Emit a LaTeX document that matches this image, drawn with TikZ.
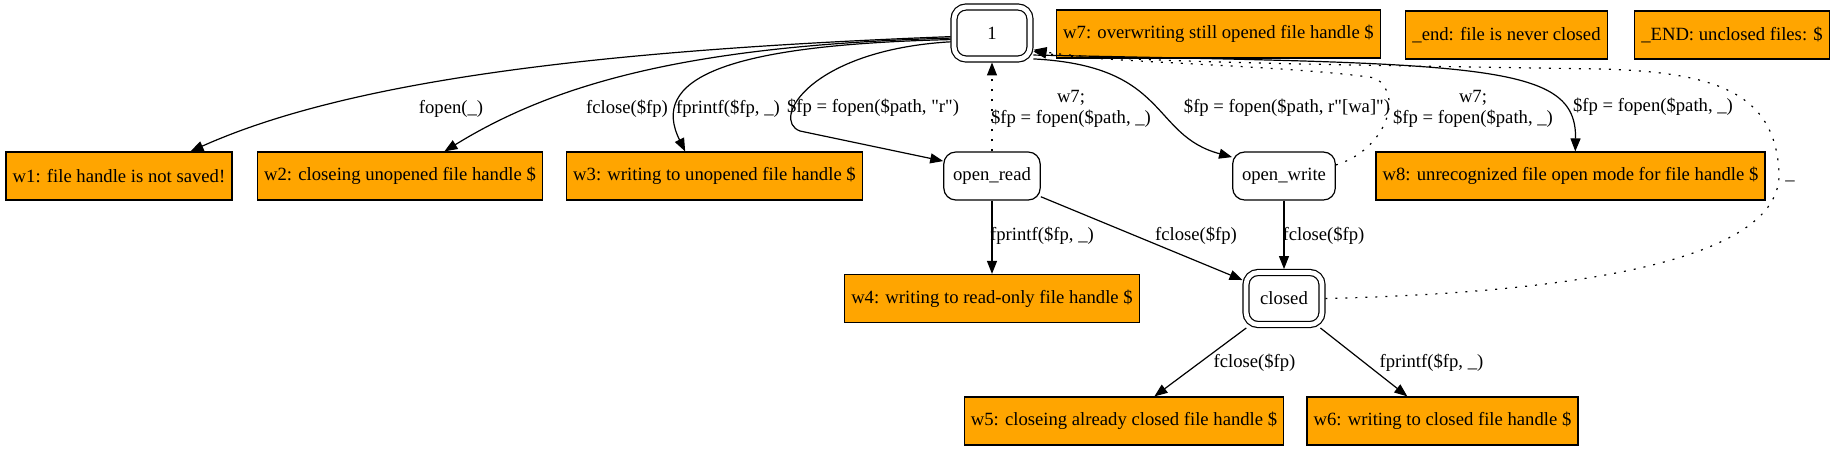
\documentclass[tikz,border=0pt]{standalone}
\usepackage{fontspec}
\setmainfont{Liberation Serif}
\usepackage{tikz}
\usetikzlibrary{arrows.meta}
\definecolor{warnfill}{HTML}{FFA500}

\begin{document}
\begin{tikzpicture}[x=0.75pt,y=0.75pt,yscale=-1,xscale=1,line width=0.9pt,
  every node/.style={font=\fontsize{14}{16}\selectfont},
  warn/.style={draw, fill=warnfill, minimum height=36pt, inner xsep=5pt},
  state/.style={draw, rounded corners=9pt, minimum width=54pt, minimum height=36pt, inner xsep=7pt},
  final/.style={state, double, double distance=3.6pt, outer sep=2.6pt, minimum width=57pt, minimum height=39pt},
  lbl/.style={inner sep=0pt, align=center, text height=10pt, text depth=3pt},
  twolbl/.style={lbl, text height=26pt},
  edge/.style={-{Triangle[length=9.75pt,width=7.5pt]}},
  back/.style={edge, dash pattern=on 1.5pt off 6pt}]
  \path[use as bounding box, fill=white] (0,0) rectangle (1836,451); %whole page

  % State Nodes
  \node[final] (one) at (992,33) {1};
  \node[state] (rd) at (992,176) {open\_read};
  \node[state] (wr) at (1284,176) {open\_write};
  \node[final] (closed) at (1284,298.5) {closed};
  % Warning Nodes
  \node[warn] (w7) at (1218.5,34) {w7: overwriting still opened file handle \$};
  \node[warn] (endlow) at (1506.5,35) {\_end: file is never closed};
  \node[warn] (endup) at (1732,35) {\_END: unclosed files: \$};
  \node[warn] (w1) at (119,176) {w1: file handle is not saved!};
  \node[warn] (w2) at (400,176) {w2: closeing unopened file handle \$};
  \node[warn] (w3) at (714.5,176) {w3: writing to unopened file handle \$};
  \node[warn] (w8) at (1570.5,176) {w8: unrecognized file open mode for file handle \$};
  \node[warn] (w4) at (992,298.5) {w4: writing to read-only file handle \$};
  \node[warn] (w5) at (1124,421) {w5: closeing already closed file handle \$};
  \node[warn] (w6) at (1442.5,421) {w6: writing to closed file handle \$};

  %Curved Lines from 1
  \draw[edge] (one.185) .. controls (600,50) and (350,80) .. (w1.19);
  \draw[edge] (one.187) .. controls (700,45) and (560,80) .. (w2.29);
  \draw[edge] (one.189) .. controls (720,45) and (650,80) .. (w3.140);
  \draw[edge] (one.192) .. controls (810,50) and (770,120) .. (800,131) -- (rd.163);
  \draw[edge] (one.-32) .. controls (1170,66) and (1150,135) .. (wr.160);
  \draw[edge] (one.-28) .. controls (1480,64) and (1577,62) .. (w8.79);
  %Dotted Lines back to 1
  \draw[back] (rd.north) -- (one.south);
  \draw[back] (wr.12) .. controls (1385,150) and (1405,95) .. (1375,78) .. controls (1300,66) and (1100,62) .. (one.-24);
  \draw[back] (closed.east) .. controls (1600,292) and (1783,255) .. (1779,172) .. controls (1775,95) and (1720,72) .. (1600,69) .. controls (1350,65) and (1100,62) .. (one.-22);
  %Straight Lines
  \draw[edge] (rd.south) -- (w4.north);
  \draw[edge] (rd.-23) -- (closed.156);
  \draw[edge] (wr.south) -- (closed.north);
  \draw[edge] (closed.-142) -- (w5.39);
  \draw[edge] (closed.-39) -- (w6.145);

  % Text Node
  \node[lbl] (lw1) at (451,109) {fopen(\_)};
  \node[lbl] (lw2) at (627,109) {fclose(\$fp)};
  \node[lbl] (lw3) at (728,109) {fprintf(\$fp, \_)};
  \node[lbl] (lrd) at (873,108) {\$fp = fopen(\$path, \textquotedbl r\textquotedbl)};
  \node[twolbl] (lrdback) at (1071,108) {w7;\\\$fp = fopen(\$path, \_)};
  \node[lbl] (lwr) at (1287,108) {\$fp = fopen(\$path, r\textquotedbl[wa]\textquotedbl)};
  \node[twolbl] (lwrback) at (1473,108) {w7;\\\$fp = fopen(\$path, \_)};
  \node[lbl] (lw8) at (1653,107) {\$fp = fopen(\$path, \_)};
  \node[lbl] (lclosedback) at (1790,175) {\_};
  \node[lbl] (lw4) at (1042,236) {fprintf(\$fp, \_)};
  \node[lbl] (lrdclosed) at (1196,236) {fclose(\$fp)};
  \node[lbl] (lwrclosed) at (1323.5,236) {fclose(\$fp)};
  \node[lbl] (lw5) at (1254.5,363) {fclose(\$fp)};
  \node[lbl] (lw6) at (1431.5,363) {fprintf(\$fp, \_)};
\end{tikzpicture}
\end{document}
